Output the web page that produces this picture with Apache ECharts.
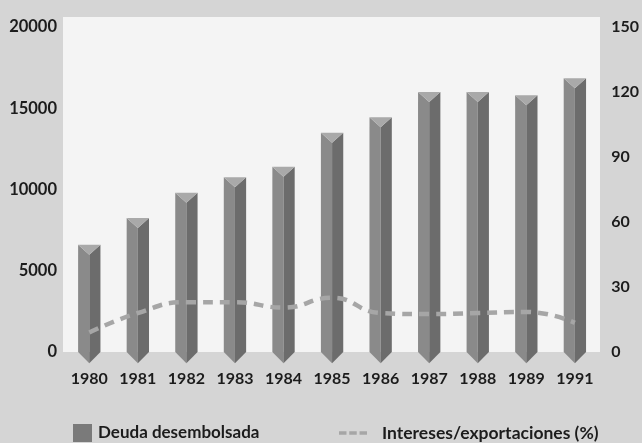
<!DOCTYPE html>
<html>
<head>
<meta charset="utf-8">
<script src="https://cdn.jsdelivr.net/npm/echarts@6/dist/echarts.min.js"></script>
<style>
  html, body { margin: 0; padding: 0; background: #d5d5d5; }
  #chart { width: 642px; height: 443px; }
</style>
</head>
<body>
<div id="chart"></div>
<script>
  // años (el último salta de 1989 a 1991, como en el original)
  var years = ['1980', '1981', '1982', '1983', '1984', '1985', '1986', '1987', '1988', '1989', '1991']
  // deuda desembolsada (eje izquierdo)
  var deuda = [6600, 8250, 9800, 10750, 11400, 13500, 14450, 16000, 16000, 15800, 16850]
  // intereses / exportaciones en % (eje derecho)
  var intereses = [9, 18, 23, 23, 20.5, 25, 18, 17.5, 18, 18.5, 13.5]
  var leftTicks = [0, 20000, 5000]   // min, max, paso
  var rightTicks = [0, 150, 30]

  var font = 'Lato'
  var txtColor = '#1c1c1c'

  // barra tipo "lápiz": cara izquierda clara, derecha oscura, tapa triangular y punta abajo
  function renderPencil(params, api) {
    var top = api.coord([api.value(0), api.value(1)])
    var base = api.coord([api.value(0), 0])
    var w = api.size([1, 0])[0] * 0.46
    var xm = top[0]
    var x0 = xm - w / 2
    var x1 = xm + w / 2
    var cap = w * 0.45
    var tip = w * 0.5
    return {
      type: 'group',
      children: [
        {
          type: 'polygon',
          shape: { points: [[x0, top[1]], [xm, top[1] + cap], [xm, base[1] + tip], [x0, base[1]]] },
          style: { fill: '#8a8a8a' }
        },
        {
          type: 'polygon',
          shape: { points: [[xm, top[1] + cap], [x1, top[1]], [x1, base[1]], [xm, base[1] + tip]] },
          style: { fill: '#6c6c6c' }
        },
        {
          type: 'polygon',
          shape: { points: [[x0, top[1]], [x1, top[1]], [xm, top[1] + cap]] },
          style: { fill: '#a9a9a9' }
        }
      ]
    }
  }

  var myChart = echarts.init(document.getElementById('chart'))
  var option = {
    backgroundColor: '#d5d5d5',
    animation: false,
    graphic: [{
      type: 'rect',
      left: 63,
      top: 17,
      shape: { width: 537, height: 335 },
      style: { fill: '#f4f4f4' },
      z: -10
    }],
    grid: {
      left: 65,
      right: 42,
      top: 27,
      bottom: 91
    },
    legend: [
      {
        data: [{ name: 'Deuda desembolsada', icon: 'rect' }],
        left: 68,
        top: 419,
        itemWidth: 19,
        itemHeight: 18,
        textStyle: {
          fontFamily: font, fontWeight: 'bold', fontSize: 17, color: txtColor,
          padding: [0, 0, 0, 1]
        }
      },
      {
        data: [{
          name: 'Intereses/exportaciones (%)',
          icon: 'path://M0,0h8v4h-8z M11,0h8v4h-8z M22,0h8v4h-8z'
        }],
        left: 334,
        top: 419,
        itemWidth: 28,
        itemHeight: 4,
        textStyle: {
          fontFamily: font, fontWeight: 'bold', fontSize: 17.5, color: txtColor,
          padding: [0, 0, 0, 10]
        }
      }
    ],
    xAxis: {
      type: 'category',
      data: years,
      boundaryGap: true,
      axisLine: { show: false },
      axisTick: { show: false },
      splitLine: { show: false },
      axisLabel: {
        margin: 19,
        fontFamily: font,
        fontWeight: 'bold',
        fontSize: 16,
        color: txtColor
      }
    },
    yAxis: [
      {
        type: 'value',
        min: leftTicks[0],
        max: leftTicks[1],
        interval: leftTicks[2],
        axisLine: { show: false },
        axisTick: { show: false },
        splitLine: { show: false },
        axisLabel: {
          margin: 8,
          fontFamily: font,
          fontWeight: 'bold',
          fontSize: 16.5,
          color: txtColor,
          formatter: function (v) { return String(v) }
        }
      },
      {
        type: 'value',
        min: rightTicks[0],
        max: rightTicks[1],
        interval: rightTicks[2],
        axisLine: { show: false },
        axisTick: { show: false },
        splitLine: { show: false },
        axisLabel: {
          margin: 12,
          fontFamily: font,
          fontWeight: 'bold',
          fontSize: 16,
          color: txtColor
        }
      }
    ],
    series: [
      {
        name: 'Deuda desembolsada',
        type: 'custom',
        renderItem: renderPencil,
        itemStyle: { color: '#7a7a7a' },
        encode: { x: 0, y: 1 },
        data: years.map(function (y, i) { return [i, deuda[i]] }),
        z: 2
      },
      {
        name: 'Intereses/exportaciones (%)',
        type: 'line',
        yAxisIndex: 1,
        smooth: true,
        showSymbol: false,
        symbol: 'none',
        data: intereses,
        itemStyle: { color: '#a6a6a6' },
        lineStyle: { color: '#a6a6a6', width: 4.5, type: [10, 7] },
        z: 3
      }
    ]
  }
  myChart.setOption(option)
</script>
</body>
</html>
